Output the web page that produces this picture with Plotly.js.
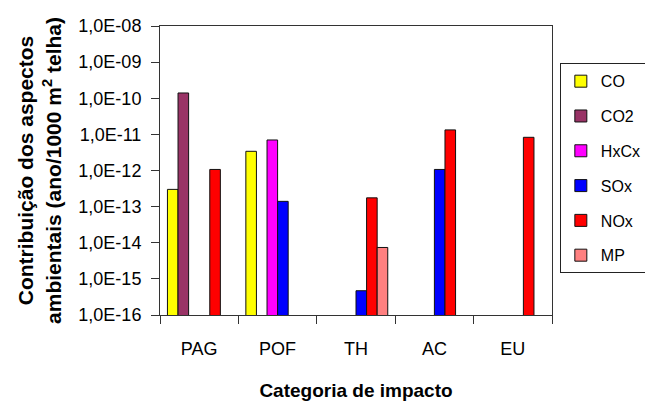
<!DOCTYPE html>
<html><head><meta charset="utf-8">
<script src="https://cdn.plot.ly/plotly-3.0.1.min.js"></script>
<style>html,body{margin:0;padding:0;background:#fff}</style>
</head><body><div id="chart" style="width:645px;height:401px"></div>
<script>
const categories = ["PAG", "POF", "TH", "AC", "EU"];
const seriesNames = ["CO", "CO2", "HxCx", "SOx", "NOx", "MP"];
const CO   = [3.0e-13, 3.4e-12, null, null, null];
const CO2  = [1.4e-10, null, null, null, null];
const HxCx = [null, 7.0e-12, null, null, null];
const SOx  = [null, 1.4e-13, 4.7e-16, 1.07e-12, null];
const NOx  = [1.07e-12, null, 1.75e-13, 1.33e-11, 8.3e-12];
const MP   = [null, null, 7.4e-15, null, null];
const seriesColors = ["#FFFF00", "#993366", "#FF00FF", "#0000FF", "#FF0000", "#FF8080"];
const yTickVals = [1e-16, 1e-15, 1e-14, 1e-13, 1e-12, 1e-11, 1e-10, 1e-9, 1e-8];
const yTickText = ["1,0E-16", "1,0E-15", "1,0E-14", "1,0E-13", "1,0E-12", "1,0E-11", "1,0E-10", "1,0E-09", "1,0E-08"];

const seriesValues = [CO, CO2, HxCx, SOx, NOx, MP];
const FONT = "Liberation Sans, Arial, sans-serif";

const traces = seriesNames.map((name, i) => ({
  type: "bar",
  name: name,
  x: categories,
  y: seriesValues[i],
  legendgroup: name,
  marker: {color: seriesColors[i], line: {color: "#111", width: 1}}
}));

const layout = {
  width: 645, height: 401,
  margin: {l: 160, r: 93, t: 26, b: 86, pad: 0, autoexpand: false},
  paper_bgcolor: "#fff", plot_bgcolor: "#fff",
  font: {family: FONT, size: 18, color: "#000"},
  barmode: "group", bargap: 0.19, bargroupgap: 0,
  showlegend: true,
  legend: {
    x: 1.02, xanchor: "left", y: 0.871, yanchor: "top",
    bgcolor: "#fff", bordercolor: "#222", borderwidth: 1,
    font: {family: FONT, size: 16, color: "#000"},
    tracegroupgap: 11, itemwidth: 30
  },
  xaxis: {
    type: "category",
    tickson: "boundaries",
    ticks: "outside", ticklen: 8, tickcolor: "#333", tickwidth: 1,
    showline: true, linecolor: "#333", linewidth: 1, mirror: true,
    showgrid: false, zeroline: false,
    tickfont: {family: FONT, size: 18, color: "#000"},
    ticklabelstandoff: 17,
    title: {text: "Categoria de impacto", font: {family: FONT, size: 19, color: "#000", weight: "bold"}, standoff: 27}
  },
  yaxis: {
    type: "log",
    range: [-16, -8],
    tickmode: "array", tickvals: yTickVals, ticktext: yTickText,
    ticks: "outside", ticklen: 8, tickcolor: "#333", tickwidth: 1,
    showline: true, linecolor: "#333", linewidth: 1, mirror: true,
    showgrid: false, zeroline: false,
    tickfont: {family: FONT, size: 18, color: "#000"},
    ticklabelstandoff: 6,
    title: {text: "Contribuição dos aspectos<br>ambientais (ano/1000 m<sup>2</sup> telha)", font: {family: FONT, size: 21, color: "#000", weight: "bold"}, standoff: 11}
  }
};

Plotly.newPlot("chart", traces, layout, {displayModeBar: false, staticPlot: true});
</script></body></html>
